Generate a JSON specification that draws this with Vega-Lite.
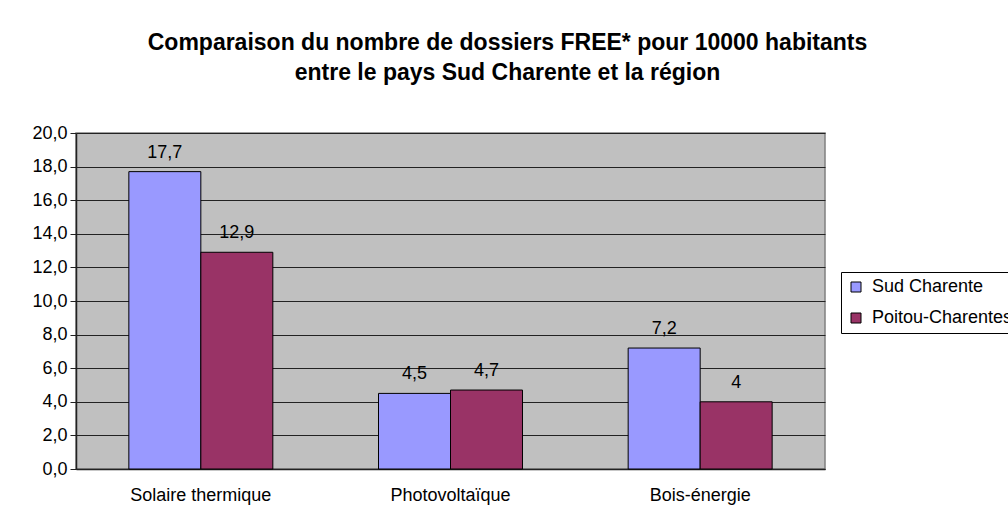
{
  "$schema": "https://vega.github.io/schema/vega-lite/v6.json",
  "autosize": "none",
  "width": 749,
  "height": 336,
  "padding": {"left": 76, "top": 133, "right": 183, "bottom": 57},
  "background": "white",
  "title": {
    "text": ["Comparaison du nombre de dossiers FREE* pour 10000 habitants", "entre le pays Sud Charente et la région"],
    "font": "Liberation Sans",
    "fontSize": 23,
    "fontWeight": "bold",
    "color": "black",
    "anchor": "middle",
    "dx": 57,
    "offset": 39,
    "lineHeight": 30
  },
  "data": {
    "values": [
      {"categorie": "Solaire thermique", "zone": "Sud Charente", "valeur": 17.7, "etiquette": "17,7"},
      {"categorie": "Solaire thermique", "zone": "Poitou-Charentes", "valeur": 12.9, "etiquette": "12,9"},
      {"categorie": "Photovoltaïque", "zone": "Sud Charente", "valeur": 4.5, "etiquette": "4,5"},
      {"categorie": "Photovoltaïque", "zone": "Poitou-Charentes", "valeur": 4.7, "etiquette": "4,7"},
      {"categorie": "Bois-énergie", "zone": "Sud Charente", "valeur": 7.2, "etiquette": "7,2"},
      {"categorie": "Bois-énergie", "zone": "Poitou-Charentes", "valeur": 4, "etiquette": "4"}
    ]
  },
  "encoding": {
    "x": {
      "field": "categorie",
      "type": "nominal",
      "sort": ["Solaire thermique", "Photovoltaïque", "Bois-énergie"],
      "scale": {"paddingInner": 0.4233, "paddingOuter": 0.2117},
      "axis": {
        "title": null,
        "labelAngle": 0,
        "ticks": false,
        "labelPadding": 17,
        "labelFont": "Liberation Sans",
        "labelFontSize": 18,
        "labelColor": "black",
        "domainColor": "#222222",
        "domainWidth": 1.5
      }
    },
    "xOffset": {
      "field": "zone",
      "type": "nominal",
      "sort": ["Sud Charente", "Poitou-Charentes"],
      "scale": {"paddingInner": 0, "paddingOuter": 0}
    },
    "y": {
      "field": "valeur",
      "type": "quantitative",
      "scale": {"domain": [0, 20], "nice": false},
      "axis": {
        "title": null,
        "values": [0, 2, 4, 6, 8, 10, 12, 14, 16, 18, 20],
        "labelExpr": "replace(format(datum.value, '.1f'), '.', ',')",
        "labelFont": "Liberation Sans",
        "labelFontSize": 18,
        "labelColor": "black",
        "tickSize": 6,
        "tickColor": "#222222",
        "labelPadding": 3,
        "domainColor": "#222222",
        "domainWidth": 1.5,
        "grid": true,
        "gridColor": "#222222",
        "gridWidth": 1
      }
    },
    "color": {
      "field": "zone",
      "type": "nominal",
      "sort": ["Sud Charente", "Poitou-Charentes"],
      "scale": {"domain": ["Sud Charente", "Poitou-Charentes"], "range": ["#9999FF", "#993366"]},
      "legend": {
        "title": null,
        "orient": "none",
        "legendX": 765,
        "legendY": 139,
        "direction": "vertical",
        "strokeColor": "black",
        "fillColor": "white",
        "padding": 6,
        "rowPadding": 13,
        "symbolType": "square",
        "symbolSize": 100,
        "symbolStrokeColor": "black",
        "symbolStrokeWidth": 1,
        "symbolOpacity": 1,
        "labelFont": "Liberation Sans",
        "labelFontSize": 18,
        "labelColor": "black",
        "labelOffset": 7
      }
    }
  },
  "layer": [
    {
      "mark": {"type": "bar", "stroke": "black", "strokeWidth": 1, "opacity": 1}
    },
    {
      "mark": {
        "type": "text",
        "baseline": "alphabetic",
        "dy": -14,
        "font": "Liberation Sans",
        "fontSize": 18,
        "color": "black"
      },
      "encoding": {
        "text": {"field": "etiquette", "type": "nominal"},
        "color": {"value": "black"}
      }
    }
  ],
  "config": {
    "view": {"fill": "#C0C0C0", "stroke": "#808080", "strokeWidth": 1.5}
  }
}
